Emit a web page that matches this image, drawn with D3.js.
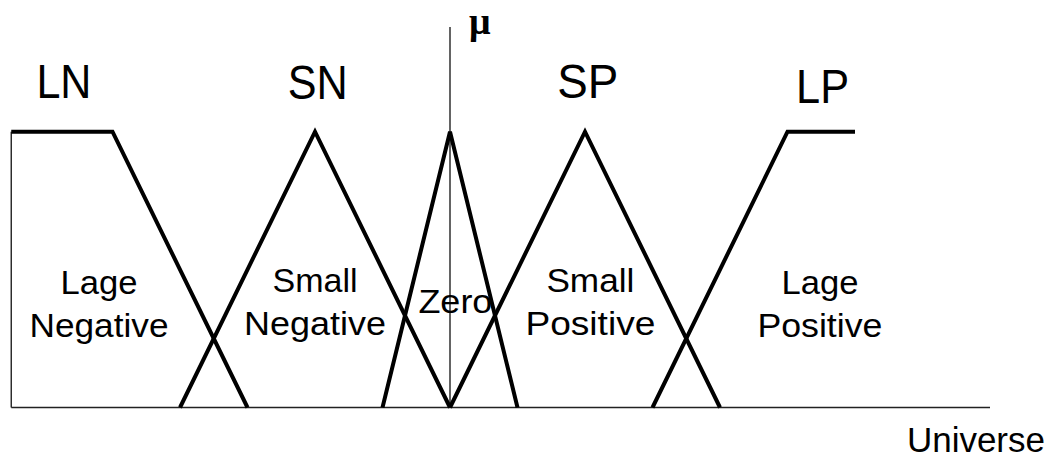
<!DOCTYPE html>
<html lang="en">
<head>
  <meta charset="UTF-8">
  <title>Fuzzy sets</title>
  <script src="https://d3js.org/d3.v7.min.js"></script>
  <style>
    body { margin: 0; background: #fff; }
    text { font-family: "Liberation Sans", Arial, sans-serif; fill: #000; }
  </style>
</head>
<body>
<script>
  // membership functions as [universe, mu] points
  const lnPoints = [[-1.625, 1], [-1.25, 1], [-0.75, 0]];
  const snPoints = [[-1, 0], [-0.5, 1], [0, 0]];
  const zeroPoints = [[-0.25, 0], [0, 1], [0.25, 0]];
  const spPoints = [[0, 0], [0.5, 1], [1, 0]];
  const lpPoints = [[0.75, 0], [1.25, 1], [1.5, 1]];

  const shortLabels = ["LN", "SN", "SP", "LP"];
  const shortCenters = [-1.43, -0.49, 0.51, 1.38];
  const longLabels = [["Lage", "Negative"], ["Small", "Negative"], ["Zero"], ["Small", "Positive"], ["Lage", "Positive"]];
  const longCenters = [-1.30, -0.50, 0.02, 0.52, 1.37];

  const universeDomain = [-1.625, 2];
  const muDomain = [0, 1];

  const width = 1047, height = 458;

  const svg = d3.select("body").append("svg")
    .attr("width", width)
    .attr("height", height);

  const x = d3.scaleLinear().domain(universeDomain).range([11.25, 990]);
  const y = d3.scaleLinear().domain(muDomain).range([407.5, 131.7]);

  // axes
  svg.append("line")
    .attr("x1", x(universeDomain[0])).attr("x2", x(universeDomain[1]))
    .attr("y1", y(0)).attr("y2", y(0))
    .attr("stroke", "#222").attr("stroke-width", 1.6);

  svg.append("line")
    .attr("x1", x(0)).attr("x2", x(0))
    .attr("y1", y(0)).attr("y2", y(1.38))
    .attr("stroke", "#222").attr("stroke-width", 1.4);

  // left edge of LN
  svg.append("line")
    .attr("x1", x(lnPoints[0][0])).attr("x2", x(lnPoints[0][0]))
    .attr("y1", y(0)).attr("y2", y(1))
    .attr("stroke", "#222").attr("stroke-width", 1.4);

  const line = d3.line()
    .x(d => x(d[0]))
    .y(d => y(d[1]));

  [lnPoints, snPoints, zeroPoints, spPoints, lpPoints].forEach(pts => {
    svg.append("path")
      .datum(pts)
      .attr("fill", "none")
      .attr("stroke", "#000")
      .attr("stroke-width", 4)
      .attr("stroke-linejoin", "miter")
      .attr("d", line);
  });

  // short names above
  const shortBase = [98, 99, 98, 103];
  const shortWidth = [55, 60, 61, 53];
  shortLabels.forEach((t, i) => {
    svg.append("text")
      .attr("x", x(shortCenters[i]))
      .attr("y", shortBase[i])
      .attr("text-anchor", "middle")
      .attr("font-size", 48)
      .attr("textLength", shortWidth[i])
      .attr("lengthAdjust", "spacingAndGlyphs")
      .text(t);
  });

  // long names inside
  const lineBase = [[294, 337], [292, 335], [313], [292, 335], [294, 337]];
  const lineWidth = [[77, 139], [85, 142], [74], [88, 130], [77, 125]];
  longLabels.forEach((lines, i) => {
    lines.forEach((t, j) => {
      svg.append("text")
        .attr("x", x(longCenters[i]))
        .attr("y", lineBase[i][j])
        .attr("text-anchor", "middle")
        .attr("font-size", 33)
        .attr("textLength", lineWidth[i][j])
        .attr("lengthAdjust", "spacingAndGlyphs")
        .text(t);
    });
  });

  svg.append("text")
    .attr("x", x(0) + 19)
    .attr("y", 34)
    .style("font-family", "'Liberation Serif', 'DejaVu Serif', serif")
    .attr("font-size", 38)
    .attr("font-weight", "bold")
    .text("\u03bc");

  svg.append("text")
    .attr("x", 1045)
    .attr("y", 452)
    .attr("text-anchor", "end")
    .attr("font-size", 35)
    .text("Universe");
</script>
</body>
</html>
